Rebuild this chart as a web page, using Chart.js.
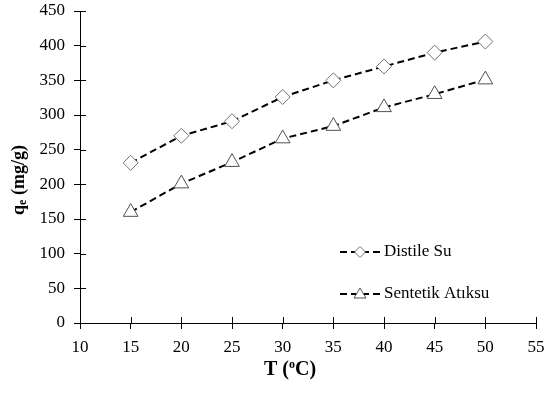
<!DOCTYPE html>
<html>
<head>
<meta charset="utf-8">
<script src="https://cdn.jsdelivr.net/npm/chart.js@4.4.1/dist/chart.umd.min.js"></script>
<style>
  html, body { margin: 0; padding: 0; background: #fff; }
  #wrap { width: 546px; height: 394px; }
</style>
</head>
<body>
<div id="wrap"><canvas id="grafico" width="546" height="394"></canvas></div>
<script>
// dados
const temperaturas = [15, 20, 25, 30, 35, 40, 45, 50];
const distileSu = [231, 270, 291, 326, 350, 370, 390, 406];
const sentetikAtiksu = [160, 201, 232, 266, 284, 311, 330, 351];
const xTicks = [10, 15, 20, 25, 30, 35, 40, 45, 50, 55];
const yTicks = [0, 50, 100, 150, 200, 250, 300, 350, 400, 450];
const seriesNames = ["Distile Su", "Sentetik Atıksu"];

const serif = "'Liberation Serif', 'Times New Roman', serif";

// desenha títulos dos eixos, legenda e a parte interna dos ticks
const extras = {
  id: "extras",
  afterDraw(chart) {
    const ctx = chart.ctx;
    const xs = chart.scales.x, ys = chart.scales.y;
    ctx.save();
    ctx.strokeStyle = "#000";
    ctx.lineWidth = 1;
    // ticks cruzando o eixo
    xTicks.forEach(v => {
      const px = Math.round(xs.getPixelForValue(v)) + 0.5;
      ctx.beginPath();
      ctx.moveTo(px, ys.bottom);
      ctx.lineTo(px, ys.bottom - 6);
      ctx.stroke();
    });
    yTicks.forEach(v => {
      const py = Math.round(ys.getPixelForValue(v)) + 0.5;
      ctx.beginPath();
      ctx.moveTo(xs.left, py);
      ctx.lineTo(xs.left + 6, py);
      ctx.stroke();
    });

    // título do eixo y com subscrito
    ctx.fillStyle = "#000";
    ctx.translate(19, 180);
    ctx.rotate(-Math.PI / 2);
    ctx.textBaseline = "middle";
    const big = "bold 18px " + serif, small = "bold 12px " + serif;
    ctx.font = big;
    const wq = ctx.measureText("q").width;
    const rest = " (mg/g)";
    const wr = ctx.measureText(rest).width;
    ctx.font = small;
    const we = ctx.measureText("e").width;
    let x0 = -(wq + we + wr) / 2;
    ctx.font = big;
    ctx.textAlign = "left";
    ctx.fillText("q", x0, 0);
    ctx.font = small;
    ctx.fillText("e", x0 + wq, 4);
    ctx.font = big;
    ctx.fillText(rest, x0 + wq + we, 0);
    ctx.setTransform(1, 0, 0, 1, 0, 0);

    // título do eixo x
    const bigX = "bold 20px " + serif;
    ctx.font = bigX;
    ctx.textAlign = "left";
    const t1 = "T (", t3 = "C)";
    const w1 = ctx.measureText(t1).width;
    const w3 = ctx.measureText(t3).width;
    ctx.font = "bold 12px " + serif;
    const w2 = ctx.measureText("o").width;
    let xx = 290 - (w1 + w2 + w3) / 2;
    ctx.font = bigX;
    ctx.fillText(t1, xx, 370);
    ctx.font = "bold 12px " + serif;
    ctx.fillText("o", xx + w1, 365);
    ctx.font = bigX;
    ctx.fillText(t3, xx + w1 + w2, 370);

    // legenda
    const legY = [252, 294];
    chart.data.datasets.forEach((ds, i) => {
      const y = legY[i];
      ctx.setLineDash([7, 4]);
      ctx.lineWidth = 2;
      ctx.strokeStyle = "#000";
      ctx.beginPath();
      ctx.moveTo(340, y);
      ctx.lineTo(380, y);
      ctx.stroke();
      ctx.setLineDash([]);
      ctx.lineWidth = 1;
      ctx.fillStyle = "#fff";
      ctx.strokeStyle = ds.pointBorderColor;
      ctx.beginPath();
      if (ds.pointStyle === "rectRot") {
        const r = 5.5;
        ctx.moveTo(360, y - r); ctx.lineTo(360 + r, y);
        ctx.lineTo(360, y + r); ctx.lineTo(360 - r, y);
      } else {
        ctx.moveTo(360, y - 6); ctx.lineTo(366, y + 4); ctx.lineTo(354, y + 4);
      }
      ctx.closePath();
      ctx.fill();
      ctx.stroke();
      ctx.fillStyle = "#000";
      ctx.font = "17px " + serif;
      ctx.textBaseline = "middle";
      ctx.fillText(seriesNames[i], 384, y);
    });
    ctx.restore();
  }
};

new Chart(document.getElementById("grafico"), {
  type: "line",
  data: {
    datasets: [
      {
        label: seriesNames[0],
        data: temperaturas.map((t, i) => ({ x: t, y: distileSu[i] })),
        borderColor: "#000",
        borderWidth: 2,
        borderDash: [7, 4],
        pointStyle: "rectRot",
        pointRadius: 7.5,
        pointBackgroundColor: "#fff",
        pointBorderColor: "#707070",
        pointBorderWidth: 1,
      },
      {
        label: seriesNames[1],
        data: temperaturas.map((t, i) => ({ x: t, y: sentetikAtiksu[i] })),
        borderColor: "#000",
        borderWidth: 2,
        borderDash: [7, 4],
        pointStyle: "triangle",
        pointRadius: 8.5,
        pointBackgroundColor: "#fff",
        pointBorderColor: "#505050",
        pointBorderWidth: 1,
      },
    ],
  },
  options: {
    responsive: false,
    animation: false,
    events: [],
    layout: { padding: { top: 11, right: 10, left: 0, bottom: 0 } },
    plugins: { legend: { display: false }, tooltip: { enabled: false } },
    scales: {
      x: {
        type: "linear",
        min: 10,
        max: 55,
        afterBuildTicks: s => { s.ticks = xTicks.map(v => ({ value: v })); },
        afterFit: s => { s.height = 71; s.paddingLeft = 0; s.paddingRight = 0; },
        border: { color: "#000", width: 1 },
        grid: { drawOnChartArea: false, tickLength: 6, color: "#000" },
        ticks: { color: "#000", padding: 8, maxRotation: 0, font: { family: serif, size: 17 } },
      },
      y: {
        min: 0,
        max: 450,
        afterBuildTicks: s => { s.ticks = yTicks.map(v => ({ value: v })); },
        afterFit: s => { s.width = 80; s.paddingTop = 0; s.paddingBottom = 0; },
        border: { color: "#000", width: 1 },
        grid: { drawOnChartArea: false, tickLength: 6, color: "#000" },
        ticks: { color: "#000", padding: 9, font: { family: serif, size: 17 } },
      },
    },
  },
  plugins: [extras],
});
</script>
</body>
</html>
